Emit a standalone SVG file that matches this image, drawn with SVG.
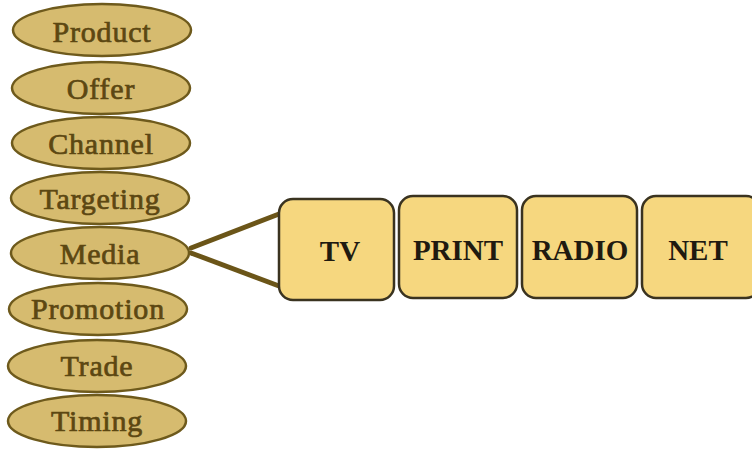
<svg xmlns="http://www.w3.org/2000/svg" width="752" height="450" viewBox="0 0 752 450">
  <style>
    .mix ellipse { fill: #d6bb6f; stroke: #6e5a1c; stroke-width: 2.5; }
    .mix text { font-family: "Liberation Serif", "DejaVu Serif", serif; font-size: 30px; font-weight: normal; letter-spacing: 0.8px; fill: #5c4712; stroke: #5c4712; stroke-width: 0.7px; text-anchor: middle; }
    .ch rect { fill: #f6d77f; stroke: #3a3320; stroke-width: 2.5; }
    .ch text { font-family: "Liberation Serif", "DejaVu Serif", serif; font-size: 29px; font-weight: bold; fill: #1f1a10; text-anchor: middle; }
    .link { stroke: #6b5518; stroke-width: 5; fill: none; stroke-linecap: round; }
  </style>
  <rect width="752" height="450" fill="#ffffff"/>

  <g id="connectors">
    <line class="link" x1="191" y1="248" x2="279" y2="214"/>
    <line class="link" x1="191" y1="253" x2="279" y2="286"/>
  </g>

  <g id="product" class="mix"><ellipse cx="102" cy="30" rx="89" ry="26"/><text x="102" y="42">Product</text></g>
  <g id="offer" class="mix"><ellipse cx="101" cy="88" rx="89" ry="26"/><text x="101" y="99">Offer</text></g>
  <g id="channel" class="mix"><ellipse cx="101" cy="143" rx="89" ry="26"/><text x="101" y="154">Channel</text></g>
  <g id="targeting" class="mix"><ellipse cx="100" cy="198" rx="89" ry="26"/><text x="100" y="209">Targeting</text></g>
  <g id="media" class="mix"><ellipse cx="100" cy="253" rx="89" ry="26"/><text x="100" y="264">Media</text></g>
  <g id="promotion" class="mix"><ellipse cx="98" cy="309" rx="89" ry="26"/><text x="98" y="319">Promotion</text></g>
  <g id="trade" class="mix"><ellipse cx="97" cy="366" rx="89" ry="26"/><text x="97" y="376">Trade</text></g>
  <g id="timing" class="mix"><ellipse cx="97" cy="421" rx="89" ry="26"/><text x="97" y="431">Timing</text></g>

  <g id="tv" class="ch"><rect x="279" y="199" width="115" height="101" rx="14"/><text x="340" y="261">TV</text></g>
  <g id="print" class="ch"><rect x="399" y="196" width="118" height="102" rx="14"/><text x="458" y="260">PRINT</text></g>
  <g id="radio" class="ch"><rect x="522" y="196" width="115" height="102" rx="14"/><text x="580" y="260">RADIO</text></g>
  <g id="net" class="ch"><rect x="642" y="196" width="118" height="102" rx="14"/><text x="698" y="260">NET</text></g>
</svg>
